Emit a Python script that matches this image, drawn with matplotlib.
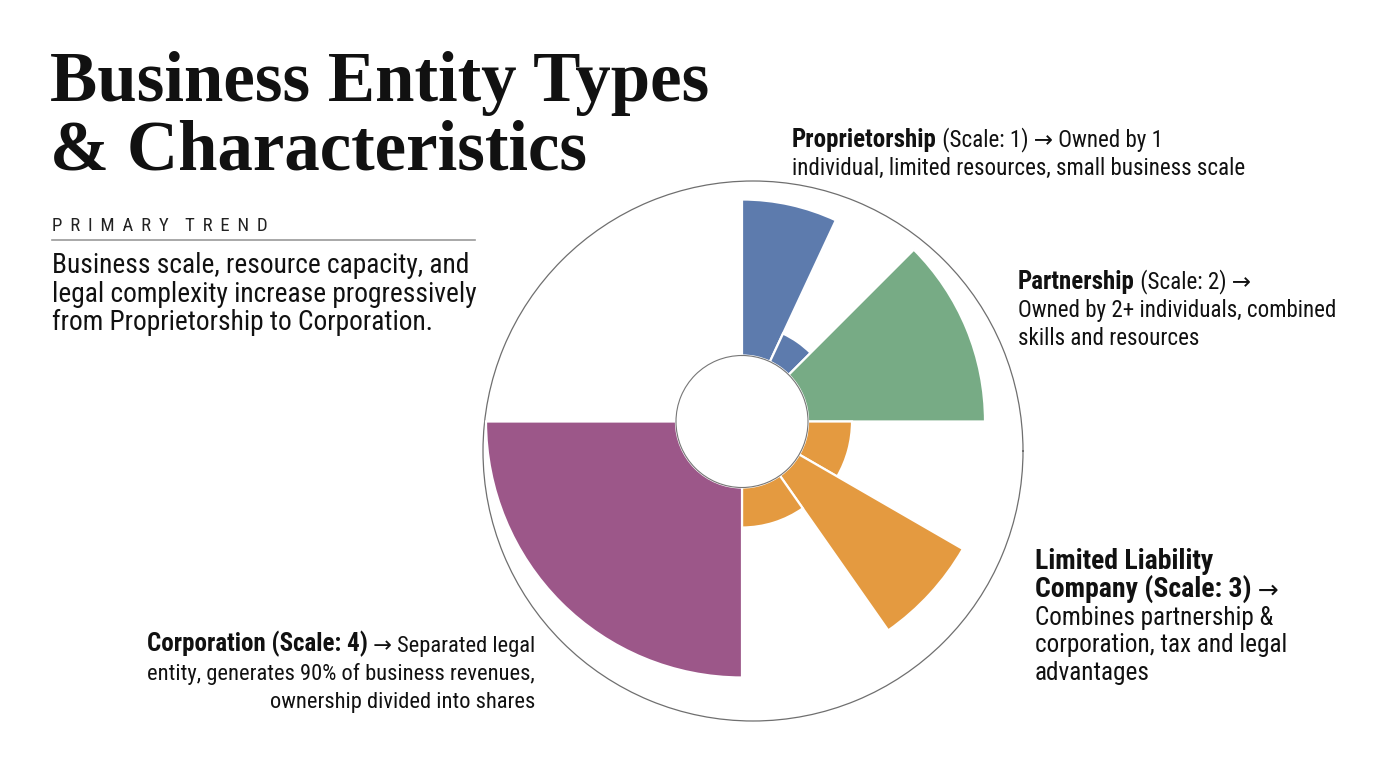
import numpy as np
import matplotlib
matplotlib.use("Agg")
import matplotlib.pyplot as plt
from matplotlib import font_manager

# pick a narrow sans if there is one
names = {f.name for f in font_manager.fontManager.ttflist}
body_font = "Roboto"
for cand in ["Roboto Condensed", "Liberation Sans Narrow", "DejaVu Sans Condensed", "Roboto"]:
    if cand in names:
        body_font = cand
        break
body_fam = [body_font, "DejaVu Sans"]
title_fam = ["Liberation Serif", "DejaVu Serif"]

# data
categories = ["Proprietorship", "Partnership", "Limited Liability Company", "Corporation"]
colors = ["#5d7bad", "#77ab85", "#e49a40", "#9c5789"]
seg_start = [[0, 25], [45], [90, 120, 145], [180]]     # degrees, clockwise from top
seg_width = [[25, 20], [45], [30, 25, 35], [90]]
seg_value = [[156, 31], [177], [44, 189, 40], [190]]
hole = 66

W, H = 1376, 768
fig = plt.figure(figsize=(W / 100, H / 100), dpi=100)
fig.patch.set_facecolor("white")

def fx(x):
    return x / W

def fy(y):
    return 1 - y / H

# outer ring (slightly off-centre in the reference)
cx2, cy2, r2 = 753, 451, 270
ring = fig.add_axes([fx(cx2 - r2), fy(cy2 + r2), 2 * r2 / W, 2 * r2 / H], projection="polar")
ring.set_facecolor("none")
ring.set_xticks([])
ring.set_yticks([])
ring.grid(False)
ring.spines["polar"].set_color("#6f6f6f")
ring.spines["polar"].set_linewidth(0.9)

# rose chart
cx, cy, R = 742, 421.5, 280
ax = fig.add_axes([fx(cx - R), fy(cy + R), 2 * R / W, 2 * R / H], projection="polar")
ax.set_facecolor("none")
ax.set_theta_zero_location("N")
ax.set_theta_direction(-1)
ax.set_rorigin(-hole)
ax.set_ylim(0, R - hole)

for i, cat in enumerate(categories):
    ax.bar(np.radians(seg_start[i]), seg_value[i], width=np.radians(seg_width[i]),
           bottom=0, align="edge", color=colors[i], edgecolor="white", linewidth=1.6)

ax.set_xticks([])
ax.set_yticks([])
ax.grid(False)
ax.spines["polar"].set_visible(False)
ax.spines["inner"].set_color("#777777")
ax.spines["inner"].set_linewidth(0.8)

# title + side text
fig.text(fx(50), fy(101), "Business Entity Types", family=title_fam, weight="bold",
         fontsize=51, color="#111111", va="baseline")
fig.text(fx(50), fy(169), "& Characteristics", family=title_fam, weight="bold",
         fontsize=51, color="#111111", va="baseline")

fig.text(fx(52), fy(231), "P\u2009 R\u2009 I\u2009 M\u2009 A\u2009 R\u2009 Y\u2009   T\u2009 R\u2009 E\u2009 N\u2009 D",
         family=body_fam, fontsize=13.5, color="#222222", va="baseline")
fig.add_artist(plt.Line2D([fx(52), fx(475)], [fy(239.5), fy(239.5)], color="#9a9a9a", lw=1.2))

body = ["Business scale, resource capacity, and",
        "legal complexity increase progressively",
        "from Proprietorship to Corporation."]
for k, line in enumerate(body):
    fig.text(fx(52), fy(273 + 28.5 * k), line, family=body_fam, fontsize=19.7,
             color="#111111", va="baseline")

FS = 16.6
FB = 18.0
LS = 27.8

def mixed(x, y, bold, rest, fs=FS, fb=FB):
    t = fig.text(fx(x), fy(y), bold, family=body_fam, weight="bold", fontsize=fb,
                 color="#111111", va="baseline")
    plt.annotate(rest, xy=(1, 0), xycoords=t, ha="left", va="bottom",
                 family=body_fam, fontsize=fs, color="#111111", annotation_clip=False)
    return t

def plain(x, y, s, ha="left", fs=FS):
    return fig.text(fx(x), fy(y), s, family=body_fam, fontsize=fs, color="#111111",
                    va="baseline", ha=ha)

# Proprietorship
mixed(792, 147, "Proprietorship", " (Scale: 1) \u2192 Owned by 1")
plain(792, 147 + LS, "individual, limited resources, small business scale")

# Partnership
mixed(1018, 289, "Partnership", " (Scale: 2) \u2192")
plain(1018, 289 + LS, "Owned by 2+ individuals, combined")
plain(1018, 289 + 2 * LS, "skills and resources")

# LLC, set a bit larger
fig.text(fx(1035), fy(569), "Limited Liability", family=body_fam, weight="bold", fontsize=20,
         color="#111111", va="baseline")
mixed(1035, 569 + LS, "Company (Scale: 3)", " \u2192", fs=18, fb=20)
plain(1035, 569 + 2 * LS, "Combines partnership &", fs=18.2)
plain(1035, 569 + 3 * LS, "corporation, tax and legal", fs=18.2)
plain(1035, 569 + 4 * LS, "advantages", fs=18.2)

# Corporation (right aligned)
r = plain(535, 652, " \u2192 Separated legal", ha="right", fs=16.2)
plt.annotate("Corporation (Scale: 4)", xy=(0, 0), xycoords=r, ha="right", va="bottom",
             family=body_fam, weight="bold", fontsize=18, color="#111111", annotation_clip=False)
plain(535, 652 + LS, "entity, generates 90% of business revenues,", ha="right", fs=16.2)
plain(535, 652 + 2 * LS, "ownership divided into shares", ha="right", fs=16.2)

fig.savefig("out.png", dpi=100, facecolor="white")
